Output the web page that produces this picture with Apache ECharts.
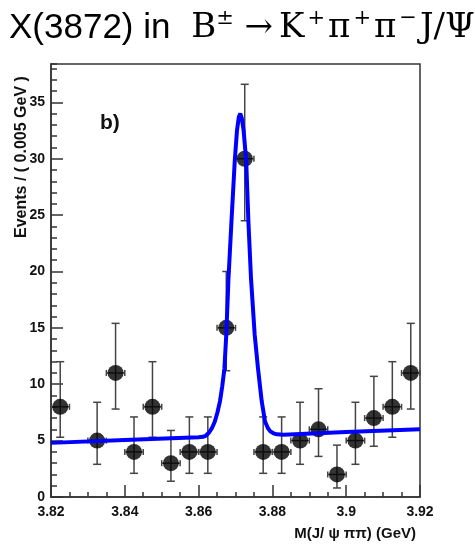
<!DOCTYPE html>
<html>
<head>
<meta charset="utf-8">
<script src="https://cdn.jsdelivr.net/npm/echarts@6/dist/echarts.min.js"></script>
<style>
html,body{margin:0;padding:0;background:#fff;}
#chart{width:475px;height:544px;}
</style>
</head>
<body>
<div id="chart"></div>
<script>
// ---- data ----
const massCenters = [3.8225, 3.8325, 3.8375, 3.8425, 3.8475, 3.8525, 3.8575, 3.8625, 3.8675, 3.8725,
                     3.8775, 3.8825, 3.8875, 3.8925, 3.8975, 3.9025, 3.9075, 3.9125, 3.9175];
const events     = [8, 5, 11, 4, 8, 3, 4, 4, 15, 30, 4, 4, 5, 6, 2, 5, 7, 8, 11];
const errLow     = [5.3, 2.9, 7.8, 2.1, 5.3, 1.4, 2.1, 2.1, 11.2, 24.5, 2.1, 2.1, 2.9, 3.6, 0.8, 2.9, 4.5, 5.3, 7.8];
const errHigh    = [12.0, 8.4, 15.4, 7.1, 12.0, 5.9, 7.1, 7.1, 20.0, 36.6, 7.1, 7.1, 8.4, 9.6, 4.6, 8.4, 10.7, 12.0, 15.4];
const binHalfWidth = 0.0025;

const fitMass   = [3.82, 3.84, 3.86, 3.8612, 3.8620, 3.8628, 3.8636, 3.8644, 3.8651, 3.8658, 3.8664, 3.8670, 3.8675, 3.8681,
                   3.8689, 3.8698, 3.8704, 3.8709, 3.8713, 3.8717, 3.8722, 3.8729, 3.8735, 3.8742, 3.8752, 3.8761,
                   3.8771, 3.8780, 3.8788, 3.8795, 3.8803, 3.8812, 3.8830, 3.90, 3.92];
const fitEvents = [4.8, 5.05, 5.3, 5.34, 5.45, 5.7, 6.1, 6.7, 7.5, 8.5, 9.8, 11.4, 14.4, 19.4,
                   24.4, 29.8, 32.5, 33.7, 34.0, 33.6, 32.5, 29.8, 24.4, 19.4, 14.4, 11.4,
                   8.5, 6.7, 6.1, 5.8, 5.65, 5.56, 5.52, 5.76, 6.0];

const xTickMin = 3.82, xTickMax = 3.92, xTickStep = 0.02;
const yTickMin = 0, yTickMax = 38.4, yTickStep = 5;

const titleParts = ['X(3872) in ', 'B', '±', ' →', 'K', '+', 'π', '+', 'π', '−', 'J/Ψ'];
const panelLabel = 'b)';
const yName = 'Events / ( 0.005 GeV )';
const xName = 'M(J/ ψ ππ) (GeV)';

// ---- chart ----
const chart = echarts.init(document.getElementById('chart'), null, {renderer: 'canvas'});

const pointData = massCenters.map((m, i) => [m, events[i]]);
const errData = massCenters.map((m, i) => [m, events[i], errLow[i], errHigh[i]]);
const fitData = fitMass.map((m, i) => [m, fitEvents[i]]);

const frameColor = '#333';
const errColor = '#444';

function renderErr(params, api) {
  const x = api.value(0), y = api.value(1), lo = api.value(2), hi = api.value(3);
  const pLo = api.coord([x, lo]);
  const pHi = api.coord([x, hi]);
  const pL = api.coord([x - binHalfWidth, y]);
  const pR = api.coord([x + binHalfWidth, y]);
  const cap = 4, hcap = 3;
  const st = {stroke: errColor, lineWidth: 1.5};
  return {
    type: 'group',
    children: [
      {type: 'line', shape: {x1: pLo[0], y1: pLo[1], x2: pHi[0], y2: pHi[1]}, style: st},
      {type: 'line', shape: {x1: pHi[0] - cap, y1: pHi[1], x2: pHi[0] + cap, y2: pHi[1]}, style: st},
      {type: 'line', shape: {x1: pLo[0] - cap, y1: pLo[1], x2: pLo[0] + cap, y2: pLo[1]}, style: st},
      {type: 'line', shape: {x1: pL[0], y1: pL[1], x2: pR[0], y2: pR[1]}, style: st},
      {type: 'line', shape: {x1: pL[0], y1: pL[1] - hcap, x2: pL[0], y2: pL[1] + hcap}, style: st},
      {type: 'line', shape: {x1: pR[0], y1: pR[1] - hcap, x2: pR[0], y2: pR[1] + hcap}, style: st}
    ]
  };
}

const labelFont = {fontFamily: 'Liberation Sans, Arial, sans-serif', fontWeight: 'bold', fontSize: 14, color: '#111'};

const sansStyle = {fontFamily: 'Liberation Sans, Arial, sans-serif', fontSize: 35, color: '#111', lineHeight: 40};
const serStyle = {fontFamily: 'DejaVu Serif, Liberation Serif, serif', fontSize: 34, color: '#111', lineHeight: 40};
const serPadB = Object.assign({}, serStyle, {padding: [0, 0, 0, 11]});
const serPadK = Object.assign({}, serStyle, {padding: [0, 0, 0, 6]});
const serPad = Object.assign({}, serStyle, {padding: [0, 0, 0, 3]});
const supStyle = {fontFamily: 'DejaVu Serif, Liberation Serif, serif', fontSize: 21, color: '#111', lineHeight: 24, verticalAlign: 'top'};
const supPad = Object.assign({}, supStyle, {padding: [0, 0, 0, 3]});
const titleStyles = ['sans', 'serB', 'sup', 'ser', 'serK', 'supP', 'serP', 'supP', 'serP', 'supP', 'serP'];
const titleText = titleParts.map((t, i) => '{' + titleStyles[i] + '|' + t + '}').join('');

chart.setOption({
  animation: false,
  backgroundColor: '#fff',
  grid: {left: 51, top: 64, right: 55, bottom: 47, show: true, borderColor: frameColor, borderWidth: 1.5, backgroundColor: 'transparent'},
  xAxis: {
    type: 'value', min: xTickMin, max: xTickMax, interval: xTickStep,
    axisLine: {show: true, onZero: false, lineStyle: {color: frameColor, width: 1.5}},
    axisTick: {show: true, inside: true, length: 12, lineStyle: {color: frameColor, width: 1.5}},
    minorTick: {show: true, splitNumber: 4, length: 5, lineStyle: {color: frameColor, width: 1.5}},
    splitLine: {show: false},
    axisLabel: Object.assign({margin: 8, formatter: v => String(+v.toFixed(3))}, labelFont)
  },
  yAxis: [
    {
      type: 'value', min: yTickMin, max: yTickMax, interval: yTickStep, position: 'left',
      axisLine: {show: true, lineStyle: {color: frameColor, width: 1.5}},
      axisTick: {show: true, inside: true, length: 12, lineStyle: {color: frameColor, width: 1.5}},
      splitLine: {show: false},
      axisLabel: Object.assign({margin: 6, showMaxLabel: false, formatter: v => (Math.abs(v % 5) < 1e-9 ? String(v) : '')}, labelFont)
    },
    {
      type: 'value', min: yTickMin, max: yTickMax, interval: 1, position: 'left', offset: 0,
      axisLine: {show: false},
      axisTick: {show: true, inside: true, length: 6, lineStyle: {color: frameColor, width: 1.5}},
      splitLine: {show: false},
      axisLabel: {show: false}
    }
  ],
  series: [
    {
      type: 'custom', xAxisIndex: 0, yAxisIndex: 0, data: errData, renderItem: renderErr, z: 2,
      encode: {x: 0, y: [1, 2, 3]}, silent: true
    },
    {
      type: 'scatter', xAxisIndex: 0, yAxisIndex: 0, data: pointData, symbol: 'circle', symbolSize: 16,
      itemStyle: {color: '#000'}, z: 3, silent: true
    },
    {
      type: 'line', xAxisIndex: 0, yAxisIndex: 0, data: fitData, showSymbol: false, smooth: false,
      lineStyle: {color: '#0000ff', width: 4}, z: 4, silent: true
    }
  ],
  graphic: [
    {type: 'text', left: 9, top: 8, style: {text: titleText, rich: {sans: sansStyle, ser: serStyle, serB: serPadB, serK: serPadK, serP: serPad, sup: supStyle, supP: supPad}}},
    {type: 'text', x: 100, y: 123, style: {text: panelLabel, fontFamily: 'Liberation Sans, Arial, sans-serif', fontWeight: 'bold', fontSize: 21, fill: '#111', verticalAlign: 'middle', align: 'left'}},
    {type: 'text', x: 22, y: 238, rotation: Math.PI / 2, style: {text: yName, fontFamily: 'Liberation Sans, Arial, sans-serif', fontWeight: 'bold', fontSize: 16, fill: '#111', align: 'left', verticalAlign: 'middle'}},
    {type: 'text', x: 416, y: 534, style: {text: xName, fontFamily: 'Liberation Sans, Arial, sans-serif', fontWeight: 'bold', fontSize: 15, fill: '#111', align: 'right', verticalAlign: 'middle'}}
  ]
});
</script>
</body>
</html>
